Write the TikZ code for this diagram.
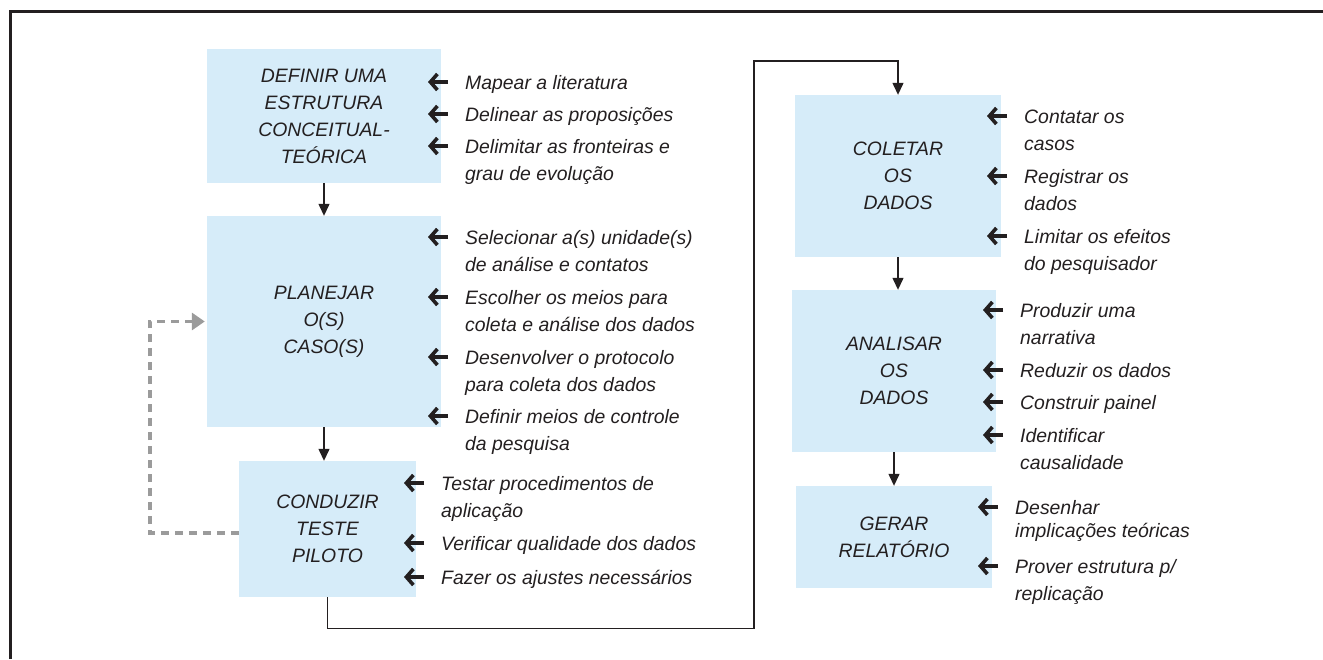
\documentclass[tikz,border=0pt]{standalone}
\usepackage{fontspec}
\setmainfont{Liberation Sans}
\usetikzlibrary{arrows.meta}
\definecolor{boxblue}{RGB}{214,236,249}
\definecolor{ink}{RGB}{35,31,32}
\definecolor{loopgray}{RGB}{155,155,155}
\newcommand{\lines}[1]{\begin{tabular}[t]{@{}l@{}}#1\end{tabular}}

\begin{document}
\begin{tikzpicture}[x=1pt,y=-1pt,
    every node/.style={font=\fontsize{19.4}{27}\selectfont\itshape, text=ink},
    stage node/.style={fill=boxblue, inner sep=0pt, align=center},
    note node/.style={anchor=base west, inner sep=0pt},
    flow/.style={draw=ink, line width=1.3pt, -{Triangle[length=12pt,width=11pt]}},
    pointer/.style={draw=ink, line width=3.6pt, -{Straight Barb[length=7pt,width=16pt]}},
    feedback/.style={draw=loopgray, line width=3.5pt, dash pattern=on 8pt off 6pt,
                     -{Triangle[length=13pt,width=17pt]}}]

  \useasboundingbox (0,0) rectangle (1323,659);
  \draw[ink, line width=3pt] (10,659) -- (10,11) -- (1323,11);

  %Stages%
  \node[stage node, minimum width=234, minimum height=134] (def) at (324,116)
    {DEFINIR UMA\\ESTRUTURA\\CONCEITUAL-\\TEÓRICA};
  \node[stage node, minimum width=234, minimum height=211] (plan) at (324,321.5)
    {PLANEJAR\\O(S)\\CASO(S)};
  \node[stage node, minimum width=177, minimum height=136] (pil) at (327.5,529)
    {CONDUZIR\\TESTE\\PILOTO};
  \node[stage node, minimum width=206, minimum height=162] (col) at (898,176)
    {COLETAR\\OS\\DADOS};
  \node[stage node, minimum width=204, minimum height=162] (ana) at (894,371)
    {ANALISAR\\OS\\DADOS};
  \node[stage node, minimum width=196, minimum height=102] (rel) at (894,537)
    {GERAR\\RELATÓRIO};

  %Notes%
  \node[note node] (d1) at (465,89) {Mapear a literatura};
  \node[note node] (d2) at (465,121) {Delinear as proposições};
  \node[note node] (d3) at (465,153) {\lines{Delimitar as fronteiras e\\grau de evolução}};

  \node[note node] (p1) at (465,244) {\lines{Selecionar a(s) unidade(s)\\de análise e contatos}};
  \node[note node] (p2) at (465,304) {\lines{Escolher os meios para\\coleta e análise dos dados}};
  \node[note node] (p3) at (465,364) {\lines{Desenvolver o protocolo\\para coleta dos dados}};
  \node[note node] (p4) at (465,423) {\lines{Definir meios de controle\\da pesquisa}};

  \node[note node] (t1) at (441,490) {\lines{Testar procedimentos de\\aplicação}};
  \node[note node] (t2) at (441,550) {Verificar qualidade dos dados};
  \node[note node] (t3) at (441,584) {Fazer os ajustes necessários};

  \node[note node] (c1) at (1024,123) {\lines{Contatar os\\casos}};
  \node[note node] (c2) at (1024,183) {\lines{Registrar os\\dados}};
  \node[note node] (c3) at (1024,243) {\lines{Limitar os efeitos\\do pesquisador}};

  \node[note node] (a1) at (1020,317) {\lines{Produzir uma\\narrativa}};
  \node[note node] (a2) at (1020,377) {Reduzir os dados};
  \node[note node] (a3) at (1020,409) {Construir painel};
  \node[note node] (a4) at (1020,442) {\lines{Identificar\\causalidade}};

  \node[note node] (r1) at (1015,514) {\lines{Desenhar\\[-4pt]implicações teóricas}};
  \node[note node] (r2) at (1015,573) {\lines{Prover estrutura p/\\replicação}};

  \foreach \n in {d1,d2,d3,p1,p2,p3,p4,t1,t2,t3,c1,c2,c3,a1,a2,a3,a4,r1,r2}
    \draw[pointer] ([xshift=-17pt,yshift=7pt]\n.base west) -- ++(-20,0);

  %Flow%
  \draw[flow] (def.south) -- (plan.north);
  \draw[flow] (plan.south) -- (plan.south |- pil.north);
  \coordinate (turn) at (754,61);
  \draw[flow] (pil.south) -- ++(0,31) -| (turn) -| (col.north);
  \draw[flow] (col.south) -- (col.south |- ana.north);
  \draw[flow] (ana.south) -- (ana.south |- rel.north);
  \draw[feedback] ([yshift=-4pt]pil.west) -| ([xshift=-57pt]plan.west) -- ([xshift=-2pt]plan.west);
\end{tikzpicture}
\end{document}
